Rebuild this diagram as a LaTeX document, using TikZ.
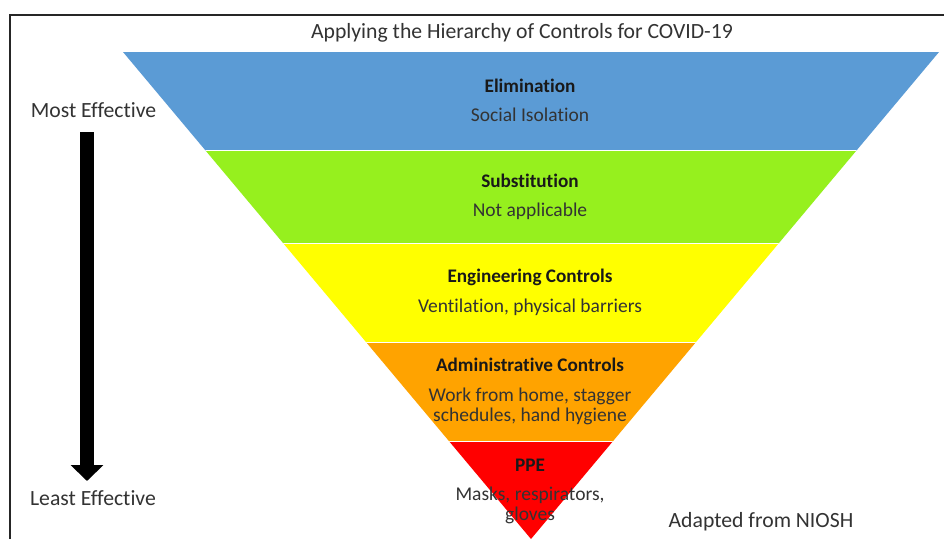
\documentclass[tikz,border=0pt]{standalone}
\usepackage{fontspec}
\setmainfont{Carlito}[Ligatures=NoCommon]
\usetikzlibrary{arrows.meta}
\definecolor{elimblue}{RGB}{91,155,213}
\definecolor{substgreen}{RGB}{150,240,30}
\definecolor{enggyellow}{RGB}{255,255,0}
\definecolor{adminorange}{RGB}{255,163,0}
\definecolor{ppered}{RGB}{255,0,0}
\tikzstyle{heading} = [font=\fontsize{19.2}{20}\selectfont\bfseries, text=black!90, inner sep=0pt]
\tikzstyle{detail} = [font=\fontsize{19.5}{20}\selectfont, text=black!80, align=center, inner sep=0pt]
\tikzstyle{sidelabel} = [font=\fontsize{21.7}{24}\selectfont, text=black!80, inner sep=0pt]
\tikzstyle{bigarrow} = [line width=14pt, -{Triangle[width=32pt, length=16pt]}]
\tikzstyle{band} = [draw=white, line width=0.8pt]

\begin{document}
\begin{tikzpicture}[x=1pt, y=-1pt, node distance=29pt]
    \useasboundingbox (0,0) rectangle (944,539);
    \fill[white] (0,0) rectangle (944,539);
    \draw[line width=2pt, black!85] (10,539) -- (10,14.5) -- (944,14.5);

    % the inverted triangle, cut into bands
    \begin{scope}
        \clip (123,52) -- (939,52) -- (531,539) -- cycle;
        \foreach \ytop/\ybot/\col in {52/150.5/elimblue, 150.5/243/substgreen, 243/342.5/enggyellow, 342.5/441.5/adminorange, 441.5/545/ppered}
            \fill[\col] (100,\ytop) rectangle (960,\ybot);
        \foreach \ysep in {150.5, 243, 342.5, 441.5}
            \draw[band] (100,\ysep) -- (960,\ysep);
    \end{scope}

    \node (title) [sidelabel] at (522,33) {Applying the Hierarchy of Controls for COVID-19};
    \node (elim) [heading] at (530,86) {Elimination};
    \node (elimtxt) [detail, below of=elim] {Social Isolation};
    \node (subst) [heading] at (530,181) {Substitution};
    \node (substtxt) [detail, below of=subst, yshift=-1pt] {Not applicable};
    \node (engg) [heading] at (530,277) {Engineering Controls};
    \node (enggtxt) [detail, below of=engg, yshift=-1pt] {Ventilation, physical barriers};
    \node (admin) [heading] at (530,365) {Administrative Controls};
    \node (admintxt) [detail, below of=admin, yshift=-12pt] {Work from home, stagger\\schedules, hand hygiene};
    \node (ppe) [heading] at (530,465) {PPE};
    \node (ppetxt) [detail, below of=ppe, yshift=-11pt] {Masks, respirators,\\gloves};
    \node (most) [sidelabel] at (93.5,110) {Most Effective};
    \node (least) [sidelabel] at (93,498) {Least Effective};
    \node (niosh) [sidelabel] at (761,522) {Adapted from NIOSH};

    \draw [bigarrow, shorten <=22pt, shorten >=17pt] ([xshift=-6.5pt]most.center) -- ([xshift=-6pt]least.center);
\end{tikzpicture}
\end{document}
